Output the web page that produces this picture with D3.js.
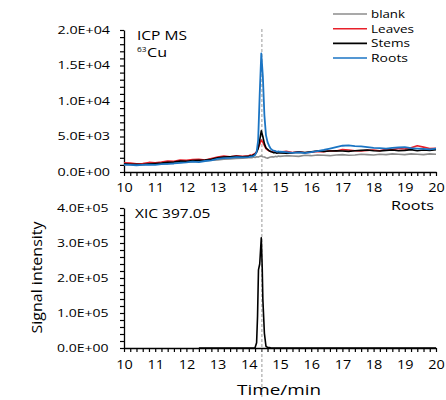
<!DOCTYPE html>
<html><head><meta charset="utf-8">
<script src="https://cdn.jsdelivr.net/npm/d3@7"></script>
<style>body{margin:0;background:#fff}svg{display:block}text{font-family:"Open Sans",sans-serif;fill:#000}</style>
</head><body><svg id="c" width="446" height="400"></svg>
<script>
// ---- data ----
const times = [10.0,10.2,10.4,10.6,10.8,11.0,11.2,11.4,11.6,11.8,12.0,12.2,12.4,12.6,12.8,13.0,13.2,13.4,13.6,13.8,
  14.0,14.05,14.1,14.15,14.2,14.25,14.3,14.35,14.4,14.45,14.5,14.55,14.6,14.65,14.7,14.75,14.8,14.85,14.9,14.95,
  15.0,15.2,15.4,15.6,15.8,16.0,16.2,16.4,16.6,16.8,17.0,17.2,17.4,17.6,17.8,18.0,18.2,18.4,18.6,18.8,19.0,19.2,19.4,19.6,19.8,20.0];
const blank = [1000,1050,1000,1100,1050,1150,1200,1150,1300,1350,1400,1450,1500,1600,1650,1700,1800,1850,1900,1950,
  2000,2050,2000,2100,2050,2150,2100,2200,2250,2150,2100,2000,1950,2050,2100,2150,2100,2200,2150,2250,
  2200,2300,2250,2200,2350,2300,2400,2350,2300,2400,2450,2350,2400,2500,2450,2400,2500,2450,2550,2500,2450,2550,2500,2450,2550,2500];
const leaves = [1300,1250,1150,1200,1350,1300,1400,1550,1500,1700,1650,1750,1800,1700,1900,2100,2250,2150,2300,2200,
  2300,2400,2350,2500,2600,2900,3400,3900,4500,4200,3700,3300,3100,3000,2900,2850,2800,2900,2750,2800,
  2800,2900,2750,2850,2700,2800,2900,2850,3000,2950,3150,3100,3000,2950,3050,3100,3000,3200,3150,3300,3250,3400,3700,3500,3300,3350];
const stems = [1150,1100,1100,1050,1150,1200,1250,1350,1400,1550,1500,1600,1650,1700,1800,2000,2100,2150,2200,2150,
  2200,2300,2250,2400,2500,2800,3300,4500,5800,5000,4000,3400,3200,3000,2900,2800,2700,2750,2650,2700,
  2700,2650,2700,2800,2750,2850,2950,2900,2950,3000,2950,2900,3000,3050,3100,3000,2950,3050,3100,3000,3050,3150,3000,3100,3050,3150];
const roots = [1050,1000,950,1000,1050,1000,1100,1150,1200,1300,1350,1450,1400,1550,1650,1850,1950,2000,2100,2050,
  2100,2150,2200,2250,2400,2800,4500,11000,16700,13500,8000,5200,4200,3700,3300,3100,3000,2950,2850,2900,
  2850,2800,2700,2750,2650,2800,2950,3100,3300,3500,3700,3750,3650,3600,3500,3400,3350,3300,3400,3450,3500,3350,3300,3250,3200,3300];
const seriesNames = ["blank","Leaves","Stems","Roots"];
const seriesColors = ["#8c8c8c","#e8202a","#000000","#1b75c4"];
const xicTimes = [12.4,13.0,13.5,14.0,14.2,14.25,14.28,14.31,14.35,14.4,14.43,14.45,14.5,14.55,14.6,14.7,14.8,15.0,16.0,17.0,18.0,19.0,20.0];
const xicValues = [0,0,0,0,500,15000,90000,223000,240000,315000,230000,140000,42000,5000,2000,800,0,0,0,0,0,0,0];
const xTicks = [10,11,12,13,14,15,16,17,18,19,20];
const topYTicks = [0,5000,10000,15000,20000];
const botYTicks = [0,100000,200000,300000,400000];
const markerTime = 14.42;

// ---- drawing ----
const svg = d3.select("#c");
const x = d3.scaleLinear().domain([10,20]).range([124,436]);
const yTop = d3.scaleLinear().domain([0,20000]).range([172,30]);
const yBot = d3.scaleLinear().domain([0,400000]).range([348,208]);

function sci(v){ if(v===0) return "0.0E+00"; const e=Math.floor(Math.log10(v)); const m=v/Math.pow(10,e); return m.toFixed(1)+"E+"+String(e).padStart(2,"0"); }
function txt(g, t, px, py, size, anchor, len){
  const el = g.append("text").attr("x",px).attr("y",py).attr("font-size",size).attr("text-anchor",anchor||"start").text(t);
  if(len){ el.attr("textLength",len).attr("lengthAdjust","spacingAndGlyphs"); }
  return el;
}

const minorX = d3.range(0,51).map(i=>10+i*0.2);

function panel(y, yTicks, minorStep, labelRight, labelLen, xLabelBase){
  const g = svg.append("g");
  const ymax = y.domain()[1];
  const minorY = d3.range(0, Math.round(ymax/minorStep)+1).map(i=>i*minorStep);
  const ay = g.append("g").attr("transform",`translate(${x(10)},0)`)
    .call(d3.axisLeft(y).tickValues(minorY).tickSize(4).tickSizeOuter(0).tickFormat(""));
  const ax = g.append("g").attr("transform",`translate(0,${y(0)})`)
    .call(d3.axisBottom(x).tickValues(minorX).tickSize(4).tickSizeOuter(0).tickFormat(""));
  [ay,ax].forEach(a=>{a.select(".domain").attr("stroke","#000").attr("stroke-width",1.3);a.selectAll(".tick line").attr("stroke","#000").attr("stroke-width",1.2);});
  g.selectAll(null).data(yTicks).enter().append("text")
    .attr("x",labelRight).attr("y",d=>y(d)+3.8).attr("font-size",10.5).attr("text-anchor","end")
    .attr("textLength",labelLen).attr("lengthAdjust","spacingAndGlyphs").text(sci);
  g.selectAll(null).data(xTicks).enter().append("text")
    .attr("x",d=>x(d)+0.5).attr("y",xLabelBase).attr("font-size",12).attr("text-anchor","middle")
    .attr("textLength",16.5).attr("lengthAdjust","spacingAndGlyphs").text(d=>d);
  return g;
}

const gTop = panel(yTop, topYTicks, 1000, 110, 52.5, 192);
const gBot = panel(yBot, botYTicks, 20000, 108.5, 51.5, 369);

// dashed marker line
svg.append("line").attr("x1",x(markerTime)).attr("x2",x(markerTime)).attr("y1",29).attr("y2",397)
  .attr("stroke","#9a9a9a").attr("stroke-width",1).attr("stroke-dasharray","3,2");

// series
const allSeries = [blank, leaves, stems, roots];
const lineTop = d3.line().x((d,i)=>x(times[i])).y(d=>yTop(d));
allSeries.forEach((s,k)=>{
  svg.append("path").datum(s).attr("d",lineTop).attr("fill","none")
    .attr("stroke",seriesColors[k]).attr("stroke-width",k===3?1.8:1.6).attr("stroke-linejoin","round");
});
const lineBot = d3.line().x((d,i)=>x(xicTimes[i])).y(d=>yBot(d));
svg.append("path").datum(xicValues).attr("d",lineBot).attr("fill","none")
  .attr("stroke","#000").attr("stroke-width",1.6).attr("stroke-linejoin","round");

// legend
const legY = [14,28.7,43.4,58];
const legLen = [34,43,39,37];
seriesNames.forEach((n,k)=>{
  svg.append("line").attr("x1",333).attr("x2",367).attr("y1",legY[k]).attr("y2",legY[k])
    .attr("stroke",seriesColors[k]).attr("stroke-width",1.6);
  txt(svg, n, 371, legY[k]+4, 11, "start", legLen[k]);
});

// annotations
txt(svg, "ICP MS", 137, 39.5, 13, "start", 50);
txt(svg, "63", 137, 52, 8, "start", 9.5);
txt(svg, "Cu", 147, 57, 13, "start", 20);
txt(svg, "XIC 397.05", 135, 218, 12.5, "start", 75.5);
txt(svg, "Roots", 434, 210, 12.5, "end", 43);
txt(svg, "Time/min", 279, 395, 14, "middle", 84);
svg.append("text").attr("transform","translate(42,277.5) rotate(-90)").attr("font-size",15)
  .attr("text-anchor","middle").attr("textLength",112).attr("lengthAdjust","spacingAndGlyphs").text("Signal intensity");
</script></body></html>
